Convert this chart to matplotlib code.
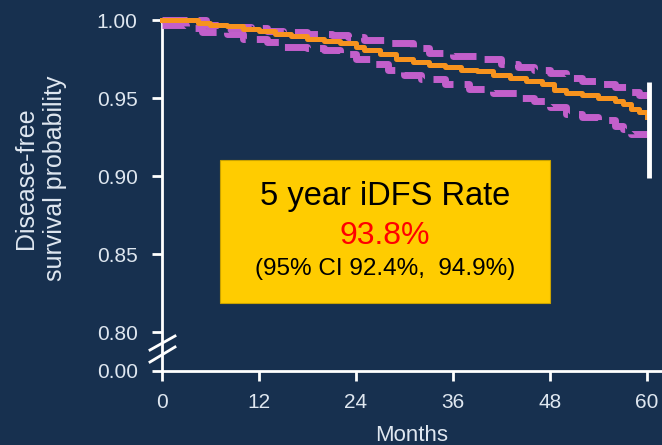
import matplotlib
matplotlib.use("Agg")
import matplotlib.pyplot as plt

# ---- data ----
months_est = [0, 3, 4.5, 6, 8, 10, 12, 14, 16, 18, 20, 22, 24, 25, 27, 29, 31, 33, 35, 37, 39,
              41, 43, 45, 47, 48.5, 50, 52, 54, 56, 57, 58, 59, 60]
surv_est = [1.0, 1.0, 0.998, 0.997, 0.996, 0.9945, 0.9928, 0.991, 0.9895, 0.988, 0.9865, 0.985,
            0.983, 0.981, 0.978, 0.975, 0.973, 0.971, 0.970, 0.968, 0.967, 0.965, 0.963, 0.961,
            0.959, 0.955, 0.953, 0.952, 0.950, 0.948, 0.946, 0.943, 0.941, 0.938]

months_upper = [0, 4, 5.5, 8, 11, 13, 15, 18, 21, 23, 25, 28, 31, 33, 36, 39, 42, 44, 46, 48,
                50, 52, 54, 56, 58, 59, 60]
surv_upper = [1.0, 1.0, 0.997, 0.9955, 0.995, 0.993, 0.992, 0.991, 0.9905, 0.989, 0.987, 0.985,
              0.982, 0.979, 0.977, 0.975, 0.972, 0.970, 0.968, 0.966, 0.963, 0.961, 0.959, 0.957,
              0.954, 0.952, 0.950]

months_lower = [0, 3, 5, 8, 10, 13, 15, 18, 20, 22, 24, 26, 28, 30, 32, 35, 38, 41, 44, 46, 48,
                50, 52, 54, 56, 57, 58, 60]
surv_lower = [0.997, 0.995, 0.992, 0.991, 0.988, 0.986, 0.983, 0.982, 0.981, 0.978, 0.975, 0.972,
              0.968, 0.965, 0.962, 0.959, 0.956, 0.953, 0.950, 0.948, 0.944, 0.940, 0.938, 0.936,
              0.932, 0.930, 0.927, 0.925]

marker_month = 60
marker_range = [0.899, 0.960]

x_ticks = [0, 12, 24, 36, 48, 60]
y_ticks = [0.80, 0.85, 0.90, 0.95, 1.00]
y_tick_labels = ["0.80", "0.85", "0.90", "0.95", "1.00"]
y_zero_pos = 0.775  # where the broken axis shows 0.00
y_zero_label = "0.00"

box_title = "5 year iDFS Rate"
box_rate = "93.8%"
box_ci = "(95% CI 92.4%,  94.9%)"

# ---- style ----
BG = "#17304f"
TXT = "#dfe7f0"
WHITE = "#ffffff"
ORANGE = "#f7931e"
PURPLE = "#c25fcb"
FONT = "Liberation Sans"

plt.rcParams["font.family"] = [FONT, "DejaVu Sans"]

fig = plt.figure(figsize=(6.62, 4.45), dpi=100)
fig.patch.set_facecolor(BG)
ax = fig.add_axes([162 / 662, 74 / 445, 500 / 662, 351 / 445])
ax.set_facecolor(BG)

ax.plot(months_upper, surv_upper, drawstyle="steps-post", color=PURPLE, lw=5.0,
        dashes=(3.6, 1.6), clip_on=False, zorder=3)
ax.plot(months_lower, surv_lower, drawstyle="steps-post", color=PURPLE, lw=5.0,
        dashes=(3.6, 1.6), clip_on=False, zorder=3)
ax.plot(months_est, surv_est, drawstyle="steps-post", color=ORANGE, lw=3.6,
        clip_on=False, zorder=4)
ax.vlines(marker_month + 0.25, marker_range[0], marker_range[1], color=WHITE, lw=3.5, zorder=5)

ax.set_xlim(0, 61.86)
ax.set_ylim(y_zero_pos, 1.0)

ax.set_xticks(x_ticks)
ax.set_xticklabels([str(t) for t in x_ticks])
ax.set_yticks([y_zero_pos] + y_ticks)
ax.set_yticklabels([y_zero_label] + y_tick_labels)

for s in ["top", "right"]:
    ax.spines[s].set_visible(False)
for s in ["left", "bottom"]:
    ax.spines[s].set_color(WHITE)
    ax.spines[s].set_linewidth(2.0)
ax.tick_params(axis="both", colors=WHITE, direction="out", length=7.5, width=2.0,
               labelsize=15, labelcolor=TXT)
ax.tick_params(axis="y", pad=10)
ax.tick_params(axis="x", pad=8.5)

ax.set_xlabel("Months", fontsize=16, color=TXT, labelpad=9)
fig.text(40.5 / 662, 1 - 178 / 445, "Disease-free\nsurvival probability", rotation=90,
         ha="center", va="center", multialignment="center", fontsize=18, color=TXT,
         linespacing=1.3)

# axis-break marks
for y0, y1 in [(0.0598, 0.0997), (0.0256, 0.0684)]:
    ax.plot([-0.024, 0.026], [y0, y1], transform=ax.transAxes, color=WHITE, lw=2.0,
            clip_on=False, zorder=6)

# yellow annotation box
bx0, by0, bw, bh = (220 - 162) / 500, (371 - 303) / 351, 330 / 500, 143 / 351
ax.add_patch(plt.Rectangle((bx0, by0), bw, bh, transform=ax.transAxes,
                           facecolor="#ffcc00", edgecolor="#c9a200", lw=0.8, zorder=7))
cx = bx0 + bw / 2
ax.text(cx, (371 - 197) / 351, box_title, transform=ax.transAxes, ha="center", va="center",
        fontsize=23.5, color="#000000", zorder=8)
ax.text(cx, (371 - 236) / 351, box_rate, transform=ax.transAxes, ha="center", va="center",
        fontsize=23, color="#ff0000", zorder=8)
ax.text(cx, (371 - 269) / 351, box_ci, transform=ax.transAxes, ha="center", va="center",
        fontsize=17.5, color="#000000", zorder=8)

fig.savefig("out.png", dpi=100, facecolor=BG)
